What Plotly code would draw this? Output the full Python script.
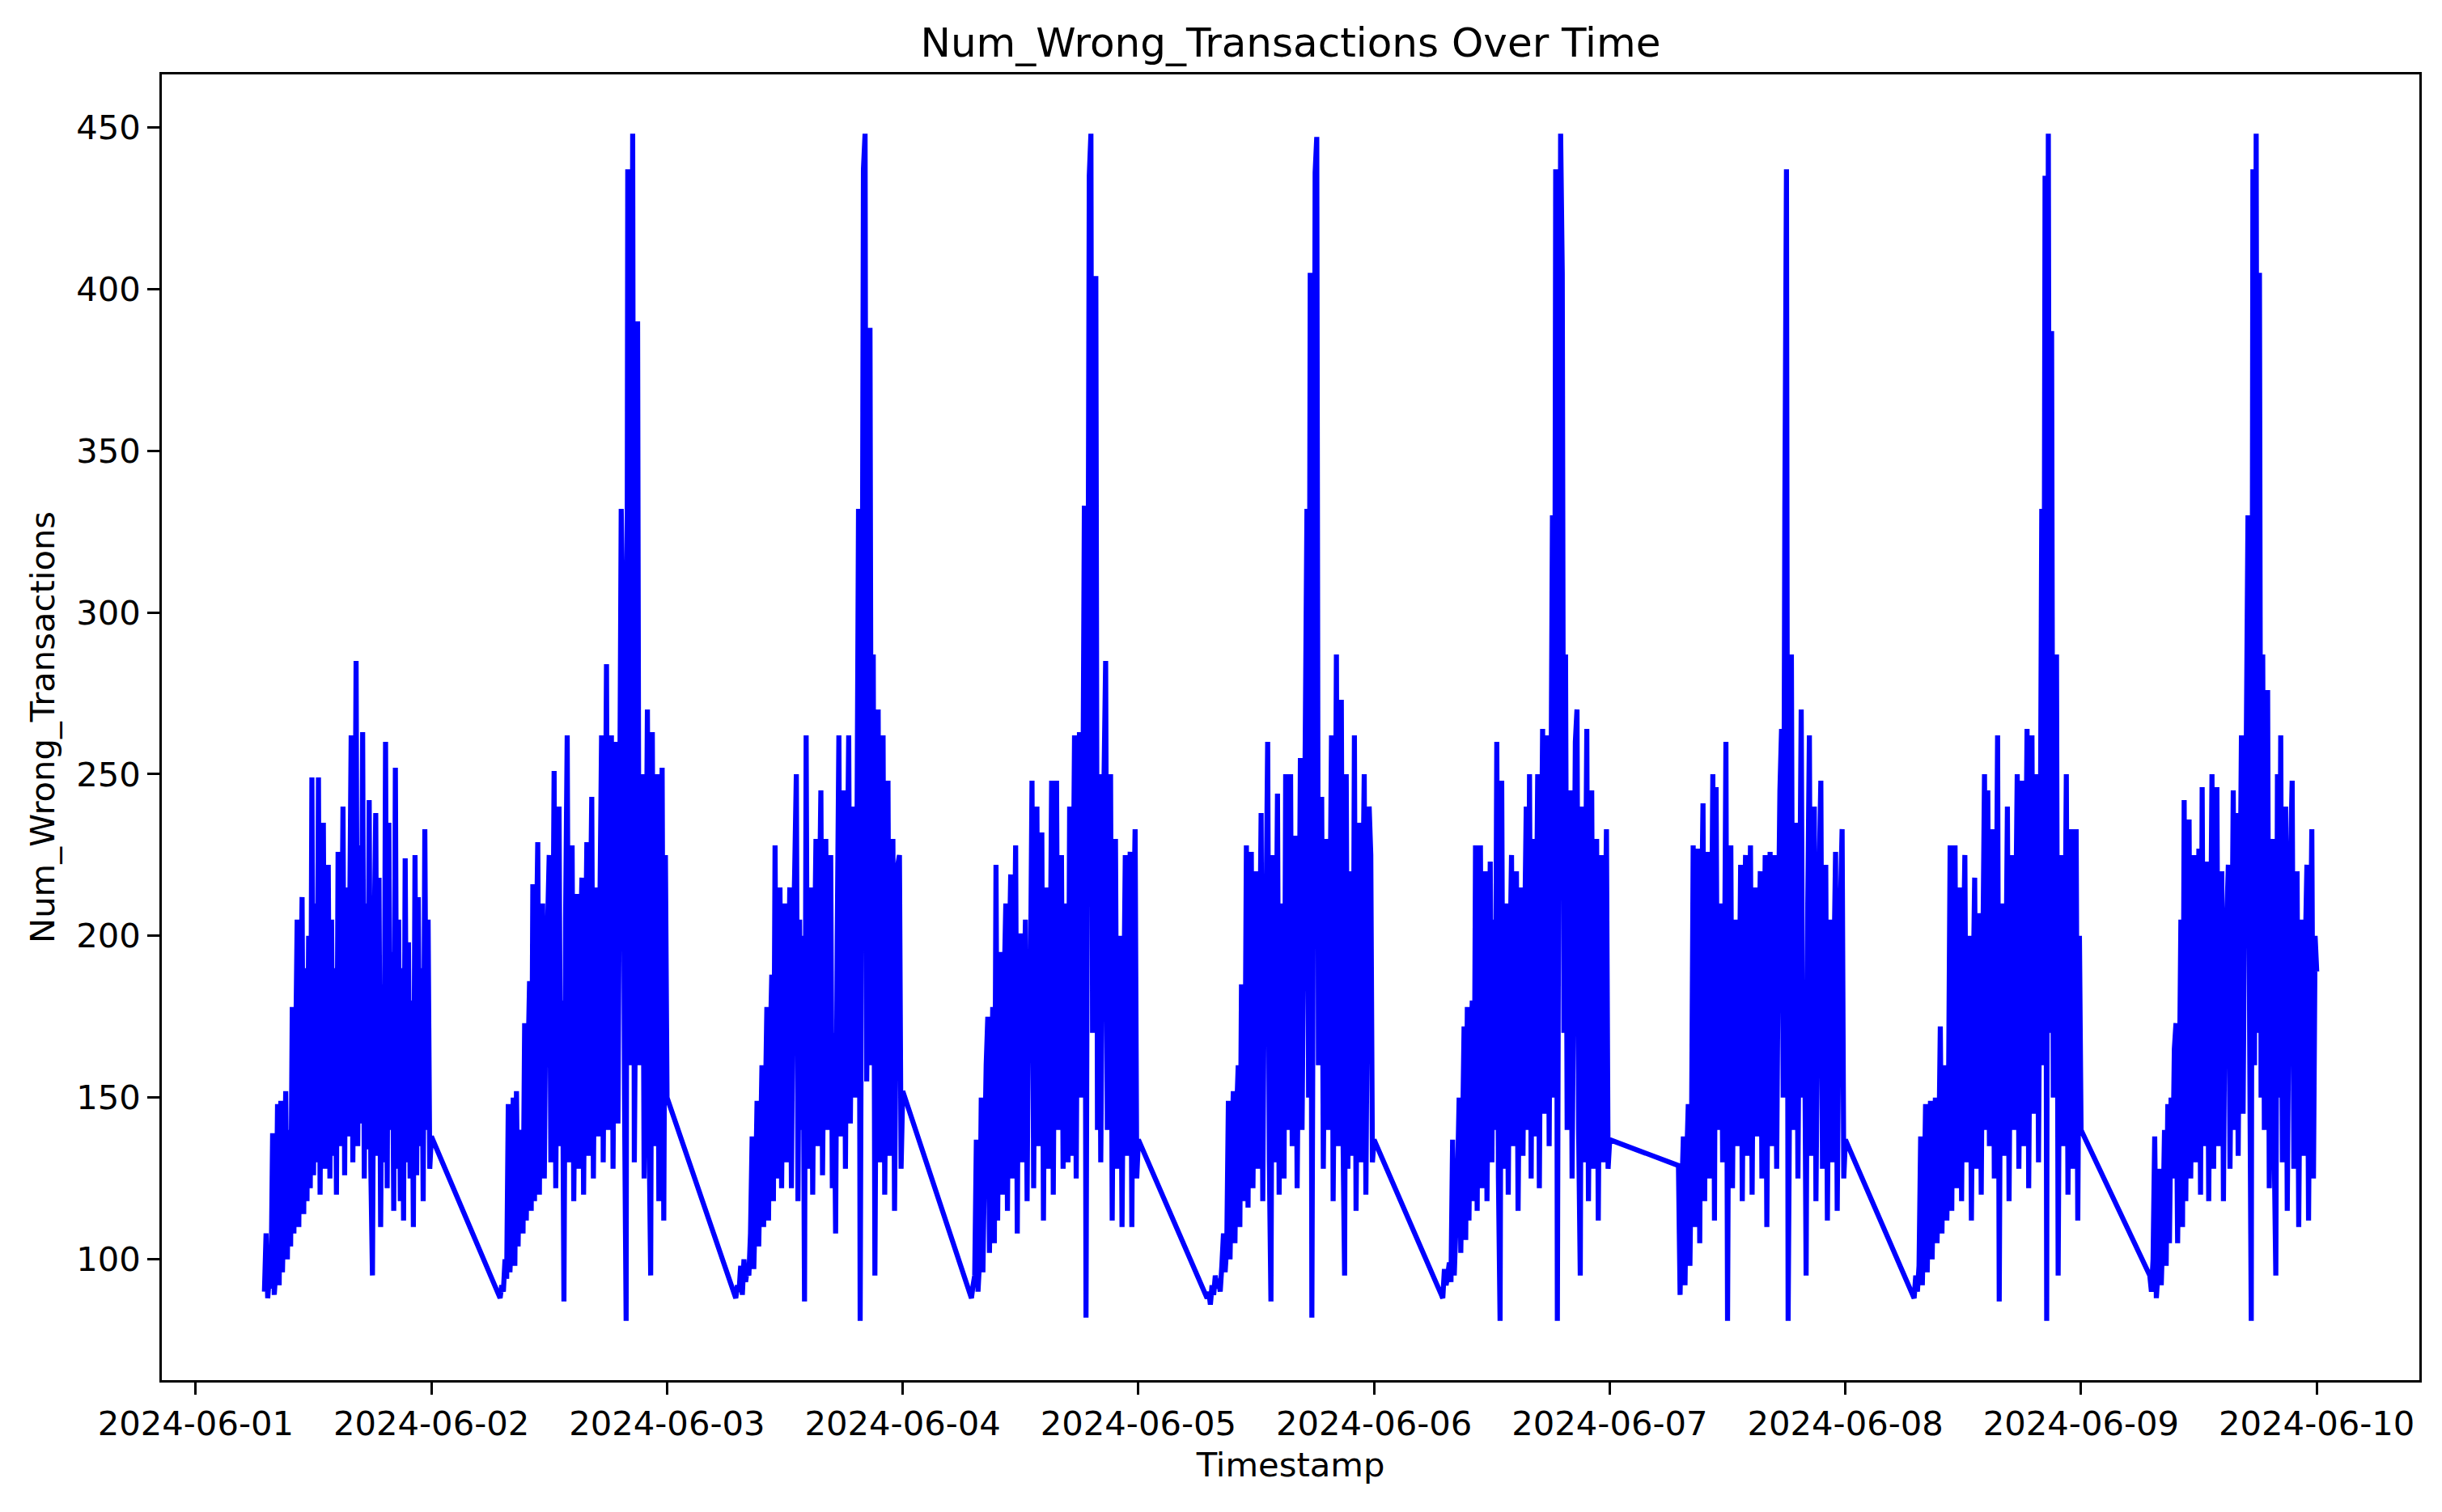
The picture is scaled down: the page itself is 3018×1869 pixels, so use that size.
import pandas as pd
import plotly.graph_objects as go

# readings every 10 minutes from 07:00 to 24:00, one list per day
jun01 = [90, 108, 88, 95, 91, 139, 89, 97, 148, 92,
         149, 96, 120, 152, 100, 140, 104, 178, 108, 160,
         205, 110, 172, 212, 114, 190, 118, 200, 122, 249,
         126, 210, 130, 249, 120, 196, 235, 128, 182, 222,
         125, 205, 132, 190, 120, 226, 135, 175, 240, 126,
         215, 138, 200, 262, 130, 188, 285, 135, 228, 142,
         263, 125, 210, 134, 242, 128, 95, 198, 238, 132,
         218, 110, 185, 130, 260, 122, 235, 140, 195, 115,
         252, 128, 205, 118, 190, 112, 224, 130, 198, 125,
         180, 110, 225, 126, 212, 135, 190, 118, 233, 140,
         205, 128, 138]
jun02 = [88, 92, 90, 100, 94, 148, 96, 110, 150, 98,
         152, 104, 140, 137, 108, 173, 112, 160, 186, 115,
         216, 118, 190, 229, 120, 200, 210, 125, 185, 203,
         225, 130, 170, 251, 122, 195, 240, 135, 180, 87,
         205, 262, 130, 190, 228, 118, 175, 213, 128, 196,
         218, 120, 185, 229, 132, 200, 243, 125, 190, 215,
         138, 210, 262, 130, 200, 284, 140, 215, 262, 128,
         205, 260, 142, 230, 332, 303, 150, 81, 437, 160,
         230, 448, 130, 200, 390, 160, 210, 250, 125, 195,
         270, 140, 95, 263, 135, 205, 250, 118, 190, 252,
         112, 225, 150]
jun03 = [88, 92, 90, 98, 89, 100, 93, 97, 95, 108,
         138, 97, 118, 149, 104, 130, 160, 110, 145, 178,
         112, 165, 188, 118, 228, 125, 190, 215, 122, 180,
         210, 130, 175, 215, 122, 195, 220, 250, 118, 205,
         140, 200, 87, 262, 128, 185, 215, 120, 190, 230,
         135, 205, 245, 126, 180, 230, 140, 195, 225, 122,
         170, 108, 200, 262, 138, 190, 245, 128, 210, 262,
         142, 200, 240, 150, 225, 332, 81, 230, 437, 448,
         155, 210, 388, 160, 287, 95, 190, 270, 130, 205,
         262, 120, 185, 248, 132, 200, 230, 115, 180, 222,
         225, 128, 152]
jun04 = [88, 92, 95, 137, 90, 100, 150, 96, 130, 160,
         175, 102, 140, 178, 105, 222, 112, 170, 195, 120,
         185, 210, 115, 190, 219, 125, 180, 228, 108, 200,
         200, 130, 178, 205, 118, 190, 182, 248, 122, 200,
         240, 135, 185, 232, 112, 195, 215, 128, 180, 248,
         120, 205, 248, 140, 190, 225, 128, 175, 210, 130,
         240, 132, 200, 262, 125, 215, 263, 150, 230, 333,
         82, 250, 435, 448, 170, 220, 404, 140, 250, 130,
         195, 248, 285, 140, 205, 250, 112, 190, 230, 128,
         185, 200, 110, 175, 225, 132, 195, 226, 110, 200,
         233, 125, 137]
jun05 = [88, 90, 86, 92, 89, 95, 91, 94, 90, 98,
         108, 96, 104, 149, 100, 130, 152, 105, 145, 160,
         110, 185, 118, 140, 228, 116, 190, 226, 122, 175,
         220, 128, 185, 238, 118, 195, 205, 260, 130, 87,
         225, 130, 180, 244, 120, 190, 210, 125, 250, 140,
         185, 250, 135, 200, 231, 122, 180, 255, 140, 200,
         263, 332, 150, 405, 82, 230, 436, 447, 160, 210,
         243, 128, 190, 230, 140, 200, 262, 118, 185, 287,
         135, 205, 273, 140, 95, 250, 128, 190, 220, 132,
         262, 115, 180, 235, 130, 205, 250, 120, 190, 240,
         225, 130, 137]
jun06 = [88, 97, 92, 95, 99, 93, 137, 95, 110, 125,
         150, 102, 135, 172, 106, 178, 112, 160, 180, 118,
         228, 115, 190, 228, 122, 185, 220, 118, 175, 223,
         130, 205, 140, 260, 125, 81, 248, 128, 180, 210,
         120, 190, 225, 135, 185, 220, 115, 175, 215, 132,
         200, 240, 140, 250, 125, 230, 138, 190, 250, 122,
         205, 264, 145, 210, 262, 135, 230, 330, 150, 437,
         81, 260, 448, 405, 170, 287, 140, 200, 245, 125,
         190, 260, 270, 140, 95, 240, 130, 195, 264, 118,
         180, 245, 128, 200, 230, 112, 185, 225, 130, 190,
         233, 128, 137]
jun07 = [129, 89, 120, 138, 92, 130, 148, 98, 140, 228,
         110, 185, 227, 105, 200, 241, 118, 190, 226, 125,
         180, 250, 112, 246, 140, 190, 210, 130, 175, 260,
         81, 200, 228, 122, 185, 205, 135, 170, 222, 118,
         190, 225, 132, 180, 228, 120, 195, 215, 138, 185,
         220, 125, 175, 225, 110, 190, 226, 135, 180, 225,
         128, 200, 245, 264, 150, 332, 437, 81, 160, 287,
         140, 190, 235, 125, 200, 270, 150, 185, 95, 210,
         262, 132, 190, 240, 118, 175, 220, 248, 128, 185,
         222, 112, 180, 205, 130, 190, 226, 115, 175, 210,
         233, 125, 137]
jun08 = [88, 95, 90, 98, 138, 92, 115, 148, 96, 125,
         149, 100, 130, 150, 105, 130, 172, 108, 145, 160,
         112, 150, 228, 115, 185, 228, 122, 175, 215, 118,
         190, 225, 130, 170, 200, 112, 180, 218, 128, 185,
         207, 120, 195, 250, 140, 245, 135, 190, 233, 125,
         185, 262, 87, 200, 210, 132, 180, 240, 118, 190,
         225, 140, 200, 250, 128, 185, 248, 135, 205, 264,
         122, 190, 262, 145, 210, 250, 130, 215, 332, 160,
         435, 81, 448, 170, 387, 150, 200, 287, 95, 190,
         225, 135, 185, 250, 120, 195, 233, 128, 180, 233,
         112, 200, 140]
jun09 = [95, 90, 100, 138, 88, 96, 128, 92, 110, 140,
         98, 148, 105, 150, 125, 165, 173, 105, 150, 205,
         110, 242, 118, 190, 236, 125, 185, 225, 130, 180,
         227, 120, 246, 135, 190, 223, 118, 185, 250, 128,
         200, 246, 135, 180, 220, 118, 190, 205, 222, 128,
         180, 245, 140, 238, 132, 200, 262, 145, 215, 262,
         330, 170, 81, 437, 160, 448, 170, 405, 150, 287,
         140, 200, 276, 122, 190, 230, 135, 95, 250, 150,
         262, 130, 195, 240, 115, 185, 225, 248, 128, 190,
         220, 110, 180, 205, 132, 195, 222, 112, 185, 233,
         125, 200, 189]

days = ["2024-06-01", "2024-06-02", "2024-06-03", "2024-06-04", "2024-06-05",
        "2024-06-06", "2024-06-07", "2024-06-08", "2024-06-09"]
day_values = [jun01, jun02, jun03, jun04, jun05, jun06, jun07, jun08, jun09]
tick_dates = ["2024-06-01", "2024-06-02", "2024-06-03", "2024-06-04", "2024-06-05",
              "2024-06-06", "2024-06-07", "2024-06-08", "2024-06-09", "2024-06-10"]

timestamps = []
values = []
for day, vals in zip(days, day_values):
    timestamps.extend(pd.date_range(day + " 07:00", periods=len(vals), freq="10min"))
    values.extend(vals)

# matplotlib-style 5% padding around the data
t0, t1 = min(timestamps), max(timestamps)
pad_t = (t1 - t0) * 0.05
v0, v1 = min(values), max(values)
pad_v = (v1 - v0) * 0.05

font = "DejaVu Sans"
fig = go.Figure()
fig.add_trace(go.Scatter(x=timestamps, y=values, mode="lines",
                         line=dict(color="blue", width=6.25, simplify=False), showlegend=False))

axis_common = dict(showline=True, linecolor="black", linewidth=3.3, mirror=True,
                   ticks="outside", ticklen=14.6, tickwidth=3.3, tickcolor="black",
                   showgrid=False, zeroline=False, automargin=False,
                   tickfont=dict(family=font, size=41.7, color="black"))

fig.update_layout(
    title=dict(text="Num_Wrong_Transactions Over Time", x=0.5, xref="paper", xanchor="center",
               y=1, yref="paper", yanchor="bottom", pad=dict(b=22),
               font=dict(family=font, size=50, color="black")),
    paper_bgcolor="white",
    plot_bgcolor="white",
    margin=dict(l=192, r=20, t=84, b=155),
    xaxis=dict(range=[t0 - pad_t, t1 + pad_t], tickvals=tick_dates, tickformat="%Y-%m-%d",
               title=dict(text="Timestamp", standoff=14, font=dict(family=font, size=41.7, color="black")),
               **axis_common),
    yaxis=dict(range=[v0 - pad_v, v1 + pad_v], tickvals=[100, 150, 200, 250, 300, 350, 400, 450],
               title=dict(text="Num_Wrong_Transactions", standoff=14,
                          font=dict(family=font, size=41.7, color="black")),
               **axis_common),
)

fig.write_html("out.html")
